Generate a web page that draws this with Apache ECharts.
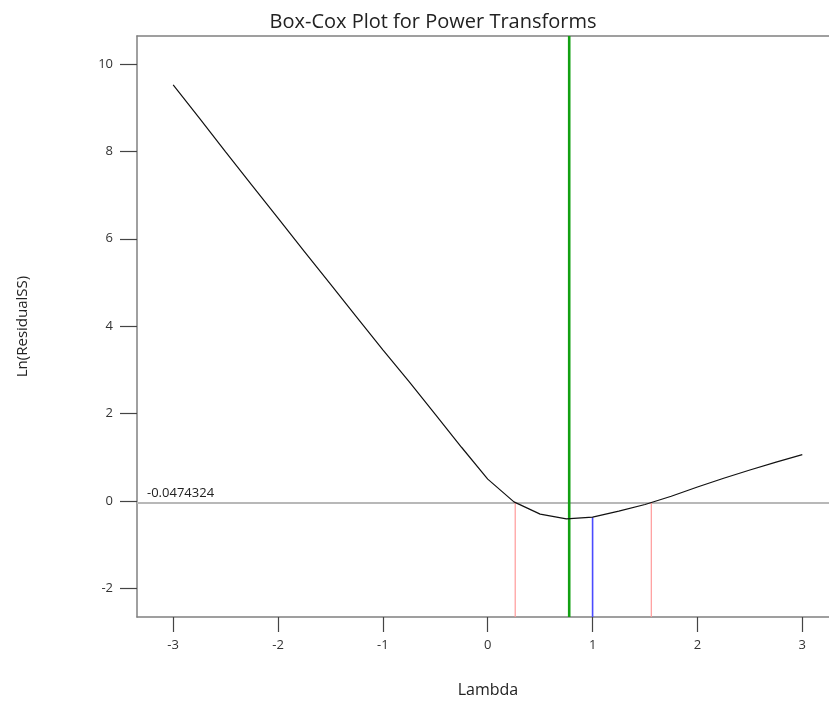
<!DOCTYPE html>
<html>
<head>
<meta charset="utf-8">
<script src="https://cdn.jsdelivr.net/npm/echarts@6/dist/echarts.min.js"></script>
<style>html,body{margin:0;padding:0;background:#fff}#c{width:829px;height:702px}</style>
</head>
<body>
<div id="c"></div>
<script>
const lambdas = [-3, -2.75, -2.5, -2.25, -2, -1.75, -1.5, -1.25, -1, -0.75, -0.5, -0.25, 0, 0.25, 0.5, 0.75, 1, 1.25, 1.5, 1.75, 2, 2.25, 2.5, 2.75, 3];
const lnRSS = [9.52, 8.76, 7.99, 7.23, 6.47, 5.71, 4.96, 4.21, 3.46, 2.73, 1.98, 1.23, 0.50, -0.02, -0.30, -0.41, -0.37, -0.23, -0.08, 0.11, 0.32, 0.52, 0.71, 0.89, 1.06];
const threshold = -0.0474324;
const lambdaBest = 0.777;
const lambdaCurrent = 1;
const lambdaCurrentValue = -0.37;
const ciLow = 0.262;
const ciHigh = 1.56;
const xTicks = [-3, -2, -1, 0, 1, 2, 3];
const yTicks = [-2, 0, 2, 4, 6, 8, 10];
const xMin = -3.345, xMax = 3.35;
const yMin = -2.654, yMax = 10.64;

const chart = echarts.init(document.getElementById('c'));
const font = '"Open Sans", "Noto Sans", sans-serif';
const axisLineStyle = { color: '#808080', width: 1.5 };
chart.setOption({
  animation: false,
  title: {
    text: 'Box-Cox Plot for Power Transforms',
    left: 428, top: 7, textAlign: 'center',
    textStyle: { fontFamily: font, fontSize: 20, fontWeight: 'normal', color: '#222' }
  },
  grid: { left: 137, top: 36, right: -10, bottom: 85, show: false, containLabel: false, outerBoundsMode: 'none' },
  xAxis: [{
    type: 'value', min: xMin, max: xMax, position: 'bottom',
    name: 'Lambda', nameLocation: 'middle', nameGap: 65,
    nameTextStyle: { fontFamily: font, fontSize: 16, color: '#222' },
    axisLine: { show: true, onZero: false, lineStyle: axisLineStyle },
    splitLine: { show: false },
    axisTick: { show: true, length: 15, customValues: xTicks, lineStyle: { color: '#444', width: 1.2 } },
    axisLabel: { customValues: xTicks, margin: 22, fontFamily: font, fontSize: 13, color: '#333' }
  }, {
    type: 'value', min: xMin, max: xMax, position: 'top',
    axisLine: { show: true, onZero: false, lineStyle: axisLineStyle },
    axisTick: { show: false }, axisLabel: { show: false }, splitLine: { show: false }
  }],
  yAxis: {
    type: 'value', min: yMin, max: yMax,
    name: 'Ln(ResidualSS)', nameLocation: 'middle', nameGap: 107, nameRotate: 90,
    nameTextStyle: { fontFamily: font, fontSize: 15, color: '#222' },
    axisLine: { show: true, onZero: false, lineStyle: axisLineStyle },
    splitLine: { show: false },
    axisTick: { show: true, length: 17, customValues: yTicks, lineStyle: { color: '#444', width: 1.2 } },
    axisLabel: { customValues: yTicks, margin: 24, fontFamily: font, fontSize: 13, color: '#333' }
  },
  series: [
    {
      type: 'line', silent: true, showSymbol: true, symbol: 'circle', symbolSize: 0,
      lineStyle: { color: '#b8b8b8', width: 2 },
      data: [
        { value: [xMin, threshold], label: { show: true, formatter: String(threshold), position: [10, -16], fontFamily: font, fontSize: 13, color: '#222' } },
        { value: [xMax, threshold] }
      ]
    },
    {
      type: 'line', silent: true, showSymbol: false,
      lineStyle: { color: '#ff9a9a', width: 1.2 },
      data: [[ciLow, yMin], [ciLow, threshold]]
    },
    {
      type: 'line', silent: true, showSymbol: false,
      lineStyle: { color: '#ff9a9a', width: 1.2 },
      data: [[ciHigh, yMin], [ciHigh, threshold]]
    },
    {
      type: 'line', silent: true, showSymbol: false,
      lineStyle: { color: '#4a4aff', width: 1.6 },
      data: [[lambdaCurrent, yMin], [lambdaCurrent, lambdaCurrentValue]]
    },
    {
      type: 'line', silent: true, showSymbol: false,
      lineStyle: { color: '#12a012', width: 2.6 },
      data: [[lambdaBest, yMin], [lambdaBest, yMax]]
    },
    {
      type: 'line', silent: true, showSymbol: false, smooth: false,
      lineStyle: { color: '#111', width: 1.2 },
      data: lambdas.map((l, i) => [l, lnRSS[i]])
    }
  ]
});
</script>
</body>
</html>
